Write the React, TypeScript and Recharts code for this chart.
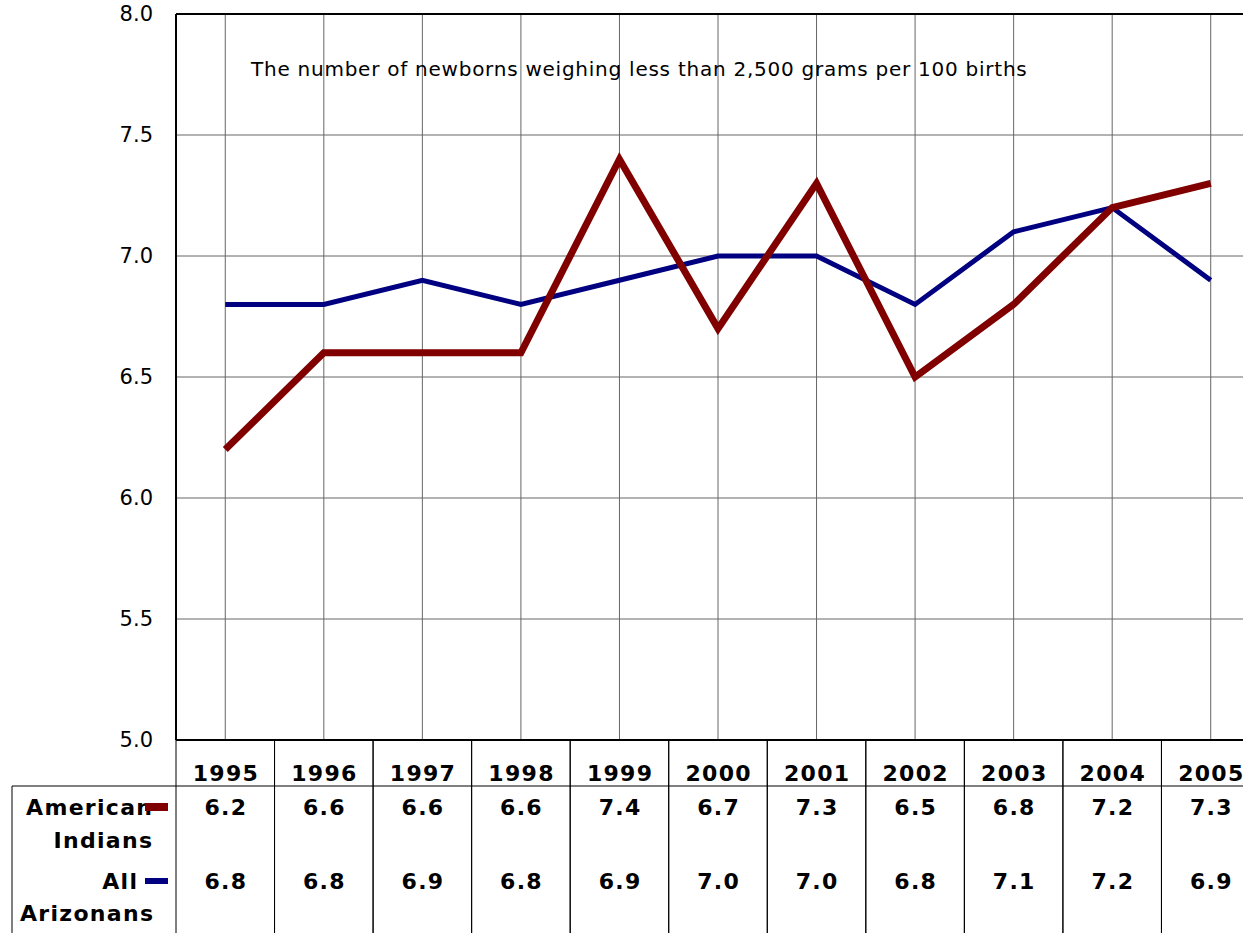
import React from 'react';
import { LineChart, Line, XAxis, YAxis, CartesianGrid, ReferenceLine, Customized } from 'recharts';

const years = ['1995', '1996', '1997', '1998', '1999', '2000', '2001', '2002', '2003', '2004', '2005'];
const americanIndians = [6.2, 6.6, 6.6, 6.6, 7.4, 6.7, 7.3, 6.5, 6.8, 7.2, 7.3];
const allArizonans = [6.8, 6.8, 6.9, 6.8, 6.9, 7.0, 7.0, 6.8, 7.1, 7.2, 6.9];
const yTicks = [5, 5.5, 6, 6.5, 7, 7.5, 8];
const titleText = 'The number of newborns weighing less than 2,500 grams per 100 births';

const data = years.map((y, i) => ({ year: y, ai: americanIndians[i], az: allArizonans[i] }));

const FONT = 'DejaVu Sans, Verdana, sans-serif';
const RED = '#800000';
const BLUE = '#000080';
const HALF = 49.27;
const BOTTOM = 933;
const LS = 1.3;

const boldStyle = { fontFamily: FONT, fontWeight: 700, fontSize: 22, fill: '#000', letterSpacing: LS } as any;

const TableTick = (props: any) => {
  const { x, y, payload } = props;
  const i = years.indexOf(payload.value);
  const cx = x + LS / 2;
  return (
    <g>
      <line x1={x - HALF} x2={x - HALF} y1={y} y2={BOTTOM} stroke="#000" strokeWidth={1} />
      <line x1={x + HALF} x2={x + HALF} y1={y} y2={BOTTOM} stroke="#000" strokeWidth={1} />
      <text x={cx} y={y + 41} textAnchor="middle" {...boldStyle}>{payload.value}</text>
      <text x={cx} y={y + 75} textAnchor="middle" {...boldStyle}>{americanIndians[i].toFixed(1)}</text>
      <text x={cx} y={y + 149} textAnchor="middle" {...boldStyle}>{allArizonans[i].toFixed(1)}</text>
    </g>
  );
};

const TableFrame = () => {
  return (
    <g>
      <line x1={12} x2={1300} y1={786} y2={786} stroke="#000" strokeWidth={1} />
      <line x1={12} x2={12} y1={786} y2={BOTTOM} stroke="#000" strokeWidth={1} />
      <text x={152 + LS} y={815} textAnchor="end" {...boldStyle}>American</text>
      <rect x={145} y={803} width={23} height={8} fill={RED} />
      <text x={152 + LS} y={848} textAnchor="end" {...boldStyle}>Indians</text>
      <text x={137 + LS} y={889} textAnchor="end" {...boldStyle}>All</text>
      <rect x={145} y={878} width={23} height={6} fill={BLUE} />
      <text x={153 + LS} y={921} textAnchor="end" {...boldStyle}>Arizonans</text>
      <text x={251} y={76} fontFamily={FONT} fontSize={20} letterSpacing={0.75} fill="#000">{titleText}</text>
    </g>
  );
};

export default function App() {
  return (
    <div style={{ position: 'absolute', left: 0, top: 0, width: 1243, height: 933, overflow: 'hidden', background: '#fff' }}>
      <LineChart width={1300} height={933} data={data} margin={{ top: 14, right: 40, left: 0, bottom: 0 }}>
        <CartesianGrid stroke="#666" strokeWidth={1} horizontal vertical />
        <XAxis
          dataKey="year"
          type="category"
          padding={{ left: HALF, right: HALF }}
          height={193}
          tickSize={0}
          tickMargin={0}
          interval={0}
          axisLine={{ stroke: '#000', strokeWidth: 2 }}
          tickLine={false}
          tick={<TableTick />}
        />
        <YAxis
          type="number"
          domain={[5, 8]}
          ticks={yTicks}
          width={176}
          tickSize={0}
          tickMargin={23}
          tickLine={false}
          axisLine={{ stroke: '#000', strokeWidth: 2 }}
          tickFormatter={(v: number) => v.toFixed(1)}
          tick={{ fontFamily: FONT, fontSize: 21, fill: '#000' }}
        />
        <ReferenceLine y={8} stroke="#000" strokeWidth={2} />
        <Line type="linear" dataKey="az" stroke={BLUE} strokeWidth={5} dot={false} isAnimationActive={false} />
        <Line type="linear" dataKey="ai" stroke={RED} strokeWidth={7} dot={false} isAnimationActive={false} />
        <Customized component={TableFrame} />
      </LineChart>
    </div>
  );
}
